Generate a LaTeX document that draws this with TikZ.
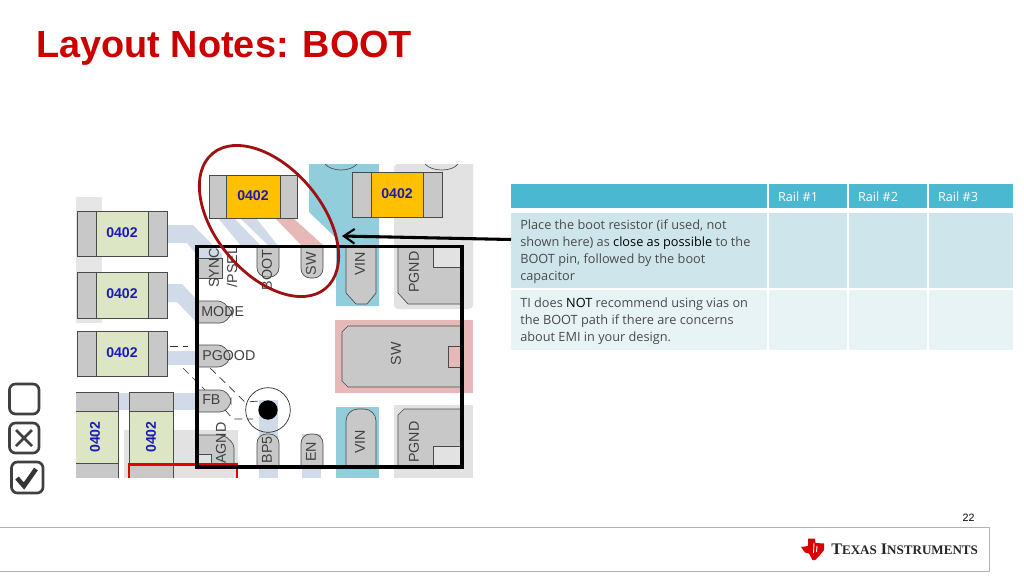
\documentclass[tikz,border=0pt]{standalone}
\usepackage{fontspec}
\setmainfont{Liberation Sans}
\newfontfamily\tablefont{Open Sans}
\newfontfamily\logofont{Liberation Serif}
\usetikzlibrary{arrows.meta}
\definecolor{titlered}{HTML}{CC0000}
\definecolor{padgray}{HTML}{C8C8C8}
\definecolor{bggray}{HTML}{E2E2E2}
\definecolor{bodygreen}{HTML}{DCE6C4}
\definecolor{bodyyellow}{HTML}{FFC000}
\definecolor{tracew}{HTML}{D0DAE8}
\definecolor{teal}{HTML}{92CDDC}
\definecolor{pinkbg}{HTML}{E6B8B8}
\definecolor{partblue}{HTML}{1C1CB4}
\definecolor{edge}{HTML}{4A4A4A}
\definecolor{hdr}{HTML}{4BB8D1}
\definecolor{rowa}{HTML}{CFE5EC}
\definecolor{rowb}{HTML}{E8F3F6}
\definecolor{ringred}{HTML}{A01010}
\definecolor{cellink}{HTML}{4A4A4A}
\tikzset{
 pinshape/.style={fill=padgray,draw=edge,line width=.5pt},
 pinlabel/.style={text=black!75,font=\fontsize{10.7}{13}\selectfont,inner sep=0pt},
 vlabel/.style={pinlabel,rotate=90},
 partlabel/.style={text=partblue,font=\bfseries\fontsize{10.6}{12}\selectfont,inner sep=0pt},
 compedge/.style={draw=edge,line width=.6pt},
 celltext/.style={anchor=north west,align=left,inner sep=0pt,text=cellink,font=\tablefont\fontsize{9.55}{12.75}\selectfont},
 hdrtext/.style={inner sep=0pt,text=white,font=\tablefont\fontsize{9.5}{12}\selectfont},
 checkbox/.style={draw=black!75,line width=2pt,rounded corners=4.5,fill=white},
 dashline/.style={draw=black!80,line width=.5pt,dash pattern=on 6 off 4},
}
\newcommand{\hres}[6]{% x y w h pad colour
 \fill[#6] (#1,#2) rectangle ++(#3,#4);
 \fill[padgray] (#1,#2) rectangle ++(#5,#4);
 \fill[padgray] ({#1+#3-#5},#2) rectangle ++(#5,#4);
 \draw[compedge] (#1,#2) rectangle ++(#3,#4);
 \draw[compedge] ({#1+#5},#2) -- ++(0,#4);
 \draw[compedge] ({#1+#3-#5},#2) -- ++(0,#4);
}
\begin{document}
\begin{tikzpicture}[x=0.75pt,y=-0.75pt]
\useasboundingbox (0,0) rectangle (1024,576);
\fill[white] (0,0) rectangle (1024,576);
% title
\node[anchor=base west,inner sep=0pt,text=titlered,font=\bfseries\fontsize{28.4}{32}\selectfont] (title) at (36,57) {Layout Notes: BOOT};
% backgrounds
\fill[bggray!85] (76,197) rectangle (102,323);
\fill[bggray] (394,164) -- (473,164) -- (473,303) [rounded corners=3] -- (473,309) -- (394,309) -- cycle;
\fill[bggray] (394,405) rectangle (473,478);
\fill[bggray] (124,430) rectangle (238,478);
\fill[teal] (309,164) -- (379,164) -- (379,306) -- (336,306) -- (336,238) -- (309,212) -- cycle;
\fill[teal] (336,407) rectangle (379,478);
\fill[pinkbg] (335,320) rectangle (473,393);
% traces
\fill[tracew] (167,225) -- (193,225) -- (222,254) -- (222,275) -- (213,275) -- (187,243) -- (167,243) -- cycle;
\fill[tracew] (167,284) -- (182,284) -- (197,300) -- (197,323) -- (177,302) -- (167,302) -- cycle;
\fill[tracew] (167,351) rectangle (197,365);
\fill[tracew] (118,393) rectangle (197,410);
\fill[tracew] (218,218) -- (234,218) -- (262,247) -- (242,247) -- cycle;
\fill[tracew] (240,218) -- (256,218) -- (279,247) -- (270,247) -- cycle;
\fill[tracew] (190,225) -- (197,232) -- (197,250) -- cycle;
\fill[pinkbg] (275,218) -- (293,218) -- (323,245) -- (301,245) -- cycle;
\fill[tracew] (259,400) rectangle (278,478);
\fill[tracew] (302,434) rectangle (321,478);
% via
\node[circle,draw=black!85,line width=.5pt,minimum size=33.5pt,inner sep=0pt] (viaring) at (268,410) {};
\node[circle,fill=black,minimum size=14.5pt,inner sep=0pt] (viadot) at (268,410) {};
% top arcs
\draw[black!70,line width=.5pt] (325,164) .. controls (332,172) and (350,172) .. (357,164);
\draw[black!70,line width=.5pt] (425,164) .. controls (432,172) and (452,172) .. (458,164);
% horizontal resistors
\hres{77}{211}{90}{45}{19}{bodygreen}
\hres{77}{272}{90}{46}{19}{bodygreen}
\hres{77}{331}{90}{45}{19}{bodygreen}
\hres{209}{175}{88}{43}{17}{bodyyellow}
\hres{352}{172}{90}{45}{19}{bodyyellow}
\node[partlabel] (ra) at (122,233) {0402};
\node[partlabel] (rb) at (122,294) {0402};
\node[partlabel] (rc) at (122,353) {0402};
\node[partlabel] (rd) at (253,196) {0402};
\node[partlabel] (re) at (397,194) {0402};
% vertical resistors
\fill[padgray] (76,392) rectangle (118,478);
\fill[bodygreen] (76,411) rectangle (118,463);
\draw[compedge] (76,392) -- (118,392) -- (118,478);
\draw[compedge] (76,411) -- (118,411);
\draw[compedge] (76,463) -- (118,463);
\fill[padgray] (129,392) rectangle (173,478);
\fill[bodygreen] (129,411) rectangle (173,463);
\draw[compedge] (129,478) -- (129,392) -- (173,392) -- (173,478);
\draw[compedge] (129,411) -- (173,411);
\draw[compedge] (129,463) -- (173,463);
\node[partlabel,rotate=90] (rf) at (95,437) {0402};
\node[partlabel,rotate=90] (rg) at (151,437) {0402};
% pins top
\draw[pinshape] (197,258) -- (222,258) -- (222,278) -- (197,278) -- cycle;
\draw[pinshape] (257,247) [rounded corners=7] -- (257,277) -- (279,277) [sharp corners] -- (279,247);
\draw[pinshape] (301,247) [rounded corners=7] -- (301,278) -- (323,278) [sharp corners] -- (323,247);
\draw[pinshape] (346,247) -- (346,293) -- (356,304) -- (367,304) -- (376,293) -- (376,247);
\draw[pinshape] (398,247) -- (398,293) -- (408,304) -- (462,304) -- (462,247) -- cycle;
\fill[bggray] (433,248) rectangle (461,267);
\draw[compedge] (433,248) -- (433,267) -- (461,267);
% pins left
\draw[pinshape] (197,301) [rounded corners=3] -- (222,301) -- (232,311) -- (232,314) -- (224,323) [sharp corners] -- (197,323);
\draw[pinshape] (197,345) [rounded corners=3] -- (222,345) -- (230,353) -- (230,360) -- (222,367) [sharp corners] -- (197,367);
\draw[pinshape] (197,390) [rounded corners=3] -- (224,390) -- (231,398) -- (231,404) -- (224,412) [sharp corners] -- (197,412);
\draw[pinshape] (197,435) [rounded corners=3] -- (224,435) -- (234,444) [sharp corners] -- (234,466) -- (197,466);
\draw[compedge,fill=bggray] (197,454) -- (211,454) -- (211,466) -- (197,466);
% pins bottom
\draw[pinshape] (257,466) [rounded corners=7] -- (257,434) -- (279,434) [sharp corners] -- (279,466) -- cycle;
\draw[pinshape] (301,466) [rounded corners=7] -- (301,434) -- (323,434) [sharp corners] -- (323,466) -- cycle;
\draw[pinshape] (346,466) [rounded corners=9] -- (346,409) -- (376,409) [sharp corners] -- (376,466) -- cycle;
\draw[pinshape] (398,466) -- (398,415) -- (404,409) -- (462,409) -- (462,466) -- cycle;
\fill[bggray] (433,446) rectangle (461,466);
\draw[compedge] (433,466) -- (433,446) -- (461,446);
% big SW
\draw[pinshape] (462,326) -- (348,326) -- (342,332) -- (342,381) -- (348,387) -- (462,387);
\fill[pinkbg] (448,346) rectangle (461,367);
\draw[compedge] (461,346) -- (448,346) -- (448,367) -- (461,367);
% dashed lines
\draw[dashline] (210,368) -- (245,402) -- (260,401);
\draw[dashline] (225,410) -- (233,419) -- (253,419);
\draw[dashline] (170,346) -- (188,346);
\draw[dashline] (183,368) -- (205,390);
% pin labels
\node[vlabel] (lsync) at (214,268) {SYNC};
\node[vlabel] (lpsel) at (232,267) {/PSEL};
\node[vlabel] (lboot) at (267,270) {BOOT};
\node[vlabel] (lsw) at (311,264) {SW};
\node[vlabel] (lvin) at (360,264) {VIN};
\node[vlabel] (lpgnd) at (414,272) {PGND};
\node[pinlabel,anchor=west] (lmode) at (201,312) {MODE};
\node[pinlabel,anchor=west] (lpgood) at (202,356) {PGOOD};
\node[pinlabel,anchor=west] (lfb) at (202,400) {FB};
\node[vlabel] (lagnd) at (221,443) {AGND};
\node[vlabel] (lbp) at (267,450) {BP5};
\node[vlabel] (len) at (311,452) {EN};
\node[vlabel] (lvinb) at (360,442) {VIN};
\node[vlabel] (lpgndb) at (414,442) {PGND};
\node[vlabel] (lswb) at (396,354) {SW};
% frames
\draw[red!90!black,line width=2pt] (129,478) -- (129,464.5) -- (237,464.5) -- (237,478);
\draw[black,line width=2.3pt] (197,246.5) rectangle (462,467);
\draw[ringred,line width=2.1pt] (269,221) ellipse[x radius=88,y radius=53,rotate=-50];
% checkboxes
\draw[checkbox] (9.5,384) rectangle (39,414);
\draw[checkbox] (9.5,423) rectangle (39,453);
\draw[black!75,line width=2pt] (16,430) -- (32,446) (32,430) -- (16,446);
\draw[checkbox] (11.5,462) rectangle (43,493);
\draw[black!80,line width=3.4pt] (17,478) -- (24,486) -- (36,469);
% table
\fill[hdr] (511,184) rectangle (767,208);
\fill[hdr] (769,184) rectangle (847,208);
\fill[hdr] (848.5,184) rectangle (927,208);
\fill[hdr] (928.5,184) rectangle (1013,208);
\fill[rowa] (511,213) rectangle (767,288);
\fill[rowa] (769,213) rectangle (847,288);
\fill[rowa] (848.5,213) rectangle (927,288);
\fill[rowa] (928.5,213) rectangle (1013,288);
\fill[rowb] (511,290) rectangle (767,350);
\fill[rowb] (769,290) rectangle (847,350);
\fill[rowb] (848.5,290) rectangle (927,350);
\fill[rowb] (928.5,290) rectangle (1013,350);
\node[hdrtext] (h1) at (798,197) {Rail \#1};
\node[hdrtext] (h2) at (878,197) {Rail \#2};
\node[hdrtext] (h3) at (958,197) {Rail \#3};
\node[celltext] (note1) at (520,219.5) {Place the boot resistor (if used, not\\shown here) as {\color{black}close as possible} to the\\BOOT pin, followed by the boot\\capacitor};
\node[celltext] (note2) at (520,297.5) {TI does {\color{black}NOT} recommend using vias on\\the BOOT path if there are concerns\\about EMI in your design.};
% arrow
\coordinate (arrowtip) at (342,236);
\coordinate (arrowstart) at (511,239.5);
\draw[black,line width=2.3pt,-{Straight Barb[length=8pt,width=11pt,line width=1.6pt]}] (arrowstart) -- (arrowtip);
% footer
\node[inner sep=0pt,font=\fontsize{8}{9}\selectfont] (page) at (968.5,518) {22};
\draw[black!30,line width=.6pt] (0,527.5) -- (989,527.5) -- (989,571) -- (0,571);
\fill[red!85!black] (801,547) -- (808,546) -- (808,538.5) -- (815,538.5) -- (815.5,543) -- (824,543.5) -- (824,550) -- (820,555) -- (815,560) -- (812.5,560) -- (809,553.5) -- (805,552.5) -- cycle;
\draw[white,line width=.7pt] (814,543) -- (813.5,553) (817,546) -- (816.5,552);
\node[anchor=base west,inner sep=0pt,text=black!85,font=\logofont\bfseries\fontsize{12.1}{13}\selectfont] (logo) at (831,554.5) {T{\fontsize{9.8}{10}\selectfont EXAS} I{\fontsize{9.8}{10}\selectfont NSTRUMENTS}};
\end{tikzpicture}
\end{document}
